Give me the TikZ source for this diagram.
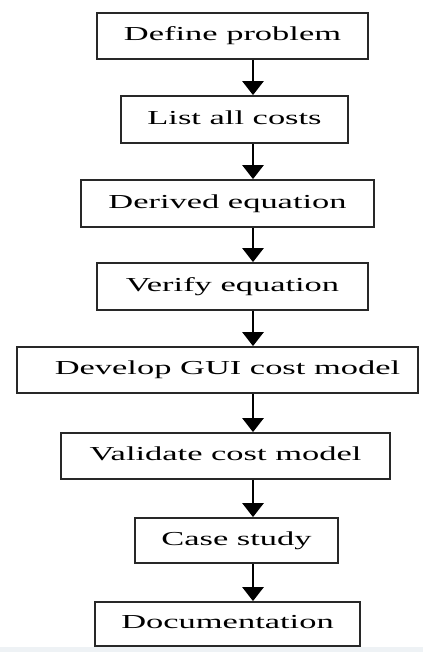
\documentclass[tikz,border=0pt]{standalone}
\usepackage{fontspec}
\setmainfont{Liberation Serif}
\usetikzlibrary{arrows.meta}
\definecolor{boxline}{RGB}{40,40,40}
\definecolor{band}{RGB}{238,242,245}
\begin{document}
\begin{tikzpicture}[x=1pt,y=-1pt,
  stepbox/.style={draw=boxline,line width=1.8pt,fill=white,inner sep=0pt,
    text height=13.4pt,text depth=4.2pt,font=\fontsize{19.8}{22}\selectfont},
  arr/.style={line width=2.8pt,draw=black,-{Triangle[width=21pt,length=14pt]}}]
\useasboundingbox (0,0) rectangle (423,652);
\fill[white] (0,0) rectangle (423,652);
\fill[band] (0,647) rectangle (423,652);
\coordinate (ax) at (253,0);
\node[stepbox,minimum width=271pt,minimum height=46pt] (b1) at (232.5,36) {\scalebox{1.74}[1]{Define problem}};
\node[stepbox,minimum width=227pt,minimum height=47pt] (b2) at (234.5,119.5) {\scalebox{1.74}[1]{List all costs}};
\node[stepbox,minimum width=293pt,minimum height=47pt] (b3) at (227.5,203.5) {\scalebox{1.74}[1]{Derived equation}};
\node[stepbox,minimum width=271pt,minimum height=47pt] (b4) at (232.5,286.5) {\scalebox{1.74}[1]{Verify equation}};
\node[stepbox,minimum width=401pt,minimum height=46pt] (b5) at (217.5,370) {\hspace*{20pt}\scalebox{1.74}[1]{Develop GUI cost model}};
\node[stepbox,minimum width=329pt,minimum height=46pt] (b6) at (225.5,456) {\scalebox{1.74}[1]{Validate cost model}};
\node[stepbox,minimum width=203pt,minimum height=45pt] (b7) at (236.5,540.5) {\scalebox{1.74}[1]{Case study}};
\node[stepbox,minimum width=265pt,minimum height=44pt] (b8) at (227.5,624) {\scalebox{1.74}[1]{Documentation}};
\foreach \a/\b in {b1/b2,b2/b3,b3/b4,b4/b5,b5/b6,b6/b7,b7/b8}
  \draw[arr] (\a.south -| ax) -- (\b.north -| ax);
\end{tikzpicture}
\end{document}
